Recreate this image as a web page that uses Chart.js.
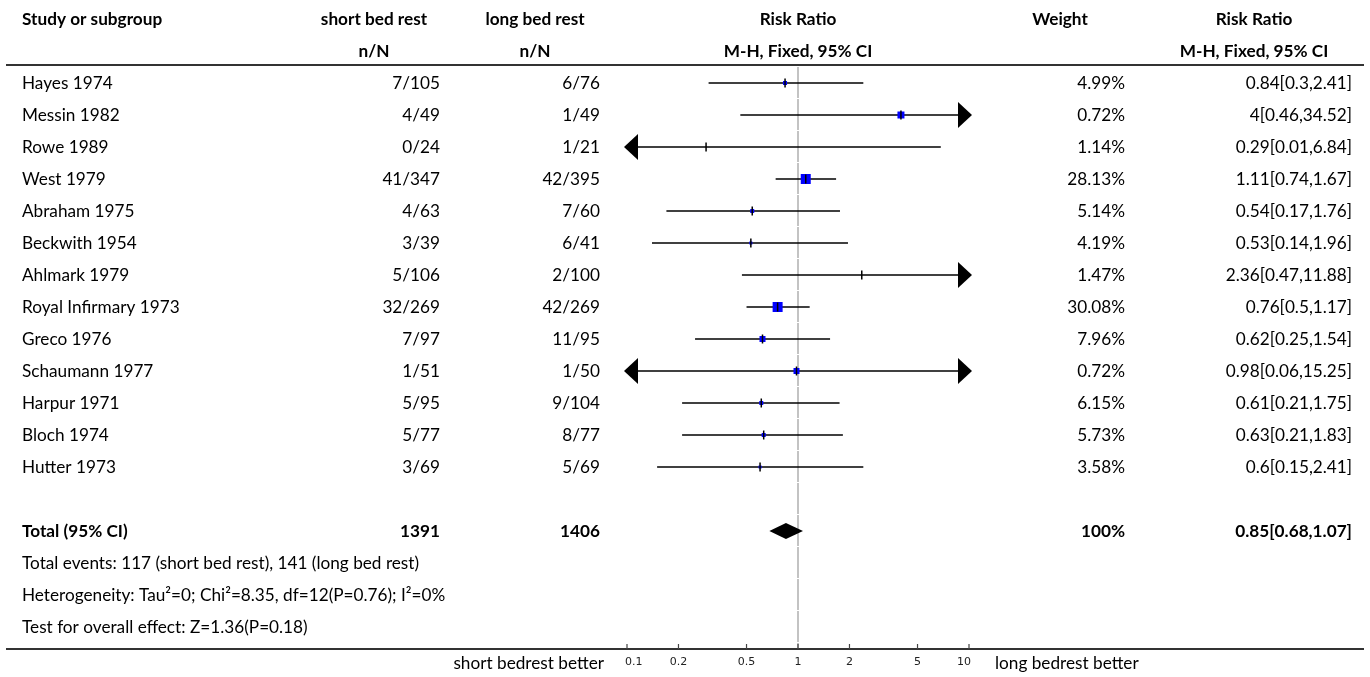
<!DOCTYPE html>
<html><head><meta charset="utf-8">
<script src="https://cdn.jsdelivr.net/npm/chart.js@4.4.0/dist/chart.umd.min.js"></script>
<style>html,body{margin:0;padding:0;background:#fff;overflow:hidden}</style>
</head><body>
<canvas id="c" width="1370" height="677"></canvas>
<script>
// ---------- data ----------
const studies = ['Hayes 1974','Messin 1982','Rowe 1989','West 1979','Abraham 1975','Beckwith 1954','Ahlmark 1979','Royal Infirmary 1973','Greco 1976','Schaumann 1977','Harpur 1971','Bloch 1974','Hutter 1973'];
const shortEvents = [7,4,0,41,4,3,5,32,7,1,5,5,3];
const shortTotals = [105,49,24,347,63,39,106,269,97,51,95,77,69];
const longEvents = [6,1,1,42,7,6,2,42,11,1,9,8,5];
const longTotals = [76,49,21,395,60,41,100,269,95,50,104,77,69];
const riskRatio = [0.84,4,0.29,1.11,0.54,0.53,2.36,0.76,0.62,0.98,0.61,0.63,0.6];
const ciLower = [0.3,0.46,0.01,0.74,0.17,0.14,0.47,0.5,0.25,0.06,0.21,0.21,0.15];
const ciUpper = [2.41,34.52,6.84,1.67,1.76,1.96,11.88,1.17,1.54,15.25,1.75,1.83,2.41];
const weights = [4.99,0.72,1.14,28.13,5.14,4.19,1.47,30.08,7.96,0.72,6.15,5.73,3.58];
const totalShort = 1391, totalLong = 1406, totalWeight = 100;
const totalRR = 0.85, totalLower = 0.68, totalUpper = 1.07;
const axisTicks = [0.1,0.2,0.5,1,2,5,10];
const summaryLines = ['Total events: 117 (short bed rest), 141 (long bed rest)','Heterogeneity: Tau\u00b2=0; Chi\u00b2=8.35, df=12(P=0.76); I\u00b2=0%','Test for overall effect: Z=1.36(P=0.18)'];
const favoursLeft = 'short bedrest better', favoursRight = 'long bedrest better';

// ---------- styles ----------
const markerSide = [4,7,0,10,4,3,0,10,6,6,4,4,3]; // px, as drawn in reference
const FONT = 'Lato';
const FS = 17.2;
const TOTAL_ROW = 14;

const rows = studies.map((s,i)=>i);
const ciDatasets = studies.map((s,i)=>({
  type:'line', data:[{x:ciLower[i],y:i},{x:ciUpper[i],y:i}],
  borderColor:'#000', borderWidth:1.5, pointRadius:0, order:3
}));

const forestPlugin = {
  id:'forest',
  afterDatasetsDraw(chart){
    const ctx = chart.ctx, xs = chart.scales.x, ys = chart.scales.y;
    const xmin = xs.getPixelForValue(axisTicks[0]), xmax = xs.getPixelForValue(axisTicks[axisTicks.length-1]);
    ctx.save();
    ctx.fillStyle = '#000';
    studies.forEach((s,i)=>{
      const y = ys.getPixelForValue(i);
      if (ciLower[i] < axisTicks[0]) {
        ctx.beginPath(); ctx.moveTo(xmin-3,y); ctx.lineTo(xmin+11,y-13); ctx.lineTo(xmin+11,y+13); ctx.closePath(); ctx.fill();
      }
      if (ciUpper[i] > axisTicks[axisTicks.length-1]) {
        ctx.beginPath(); ctx.moveTo(xmax+3,y); ctx.lineTo(xmax-11,y-13); ctx.lineTo(xmax-11,y+13); ctx.closePath(); ctx.fill();
      }
    });
    const ty = ys.getPixelForValue(TOTAL_ROW);
    ctx.beginPath();
    ctx.moveTo(xs.getPixelForValue(totalLower), ty);
    ctx.lineTo(xs.getPixelForValue(totalRR), ty-8);
    ctx.lineTo(xs.getPixelForValue(totalUpper), ty);
    ctx.lineTo(xs.getPixelForValue(totalRR), ty+8);
    ctx.closePath(); ctx.fill();
    ctx.restore();
  },
  afterDraw(chart){
    const ctx = chart.ctx, xs = chart.scales.x, ys = chart.scales.y;
    const W = chart.width;
    const yOf = v => ys.getPixelForValue(v);
    ctx.save();
    ctx.strokeStyle = '#333'; ctx.lineWidth = 2;
    ctx.beginPath(); ctx.moveTo(6, yOf(-0.56)); ctx.lineTo(W-6, yOf(-0.56)); ctx.stroke();
    const axY = chart.chartArea.bottom;
    ctx.beginPath(); ctx.moveTo(6, axY); ctx.lineTo(W-6, axY); ctx.stroke();
    // axis ticks and labels
    ctx.lineWidth = 1.2; ctx.strokeStyle = '#444';
    ctx.fillStyle = '#222'; ctx.font = '11px "DejaVu Sans"'; ctx.textBaseline='middle';
    axisTicks.forEach((t,k)=>{
      const x = xs.getPixelForValue(t);
      ctx.beginPath(); ctx.moveTo(x, axY); ctx.lineTo(x, axY-5); ctx.stroke();
      let lx = x; ctx.textAlign = 'center';
      if (k === 0) { ctx.textAlign = 'left'; lx = x - 2; }
      else if (k === axisTicks.length-1) { ctx.textAlign = 'right'; lx = x + 2; }
      ctx.fillText(String(t), lx, axY+13);
    });
    // text table
    const txt = (s,x,y,align,bold)=>{ ctx.font=(bold?'bold ':'')+FS+'px '+FONT; ctx.textAlign=align; ctx.fillText(s,x,y); };
    ctx.fillStyle = '#000'; ctx.textBaseline='middle';
    const cx1 = xs.getPixelForValue(1);
    txt('Study or subgroup',22,yOf(-2),'left',true);
    txt('short bed rest',374,yOf(-2),'center',true); txt('n/N',374,yOf(-1),'center',true);
    txt('long bed rest',535,yOf(-2),'center',true); txt('n/N',535,yOf(-1),'center',true);
    txt('Risk Ratio',cx1,yOf(-2),'center',true); txt('M-H, Fixed, 95% CI',cx1,yOf(-1),'center',true);
    txt('Weight',1060,yOf(-2),'center',true);
    txt('Risk Ratio',1254,yOf(-2),'center',true); txt('M-H, Fixed, 95% CI',1254,yOf(-1),'center',true);
    studies.forEach((s,i)=>{
      const y = yOf(i);
      txt(s,22,y,'left',false);
      txt(shortEvents[i]+'/'+shortTotals[i],440,y,'right',false);
      txt(longEvents[i]+'/'+longTotals[i],600,y,'right',false);
      txt(weights[i].toFixed(2)+'%',1125,y,'right',false);
      txt(riskRatio[i]+'['+ciLower[i]+','+ciUpper[i]+']',1352,y,'right',false);
    });
    const ty = yOf(TOTAL_ROW);
    txt('Total (95% CI)',22,ty,'left',true);
    txt(String(totalShort),440,ty,'right',true);
    txt(String(totalLong),600,ty,'right',true);
    txt(totalWeight+'%',1125,ty,'right',true);
    txt(totalRR+'['+totalLower+','+totalUpper+']',1352,ty,'right',true);
    summaryLines.forEach((s,k)=>txt(s,22,yOf(TOTAL_ROW+1+k),'left',false));
    txt(favoursLeft,604,axY+14,'right',false);
    txt(favoursRight,995,axY+14,'left',false);
    ctx.restore();
  }
};

new Chart(document.getElementById('c'), {
  type:'scatter',
  data:{ datasets:[
    { type:'line', data:[{x:1,y:-0.5},{x:1,y:17.6875}], borderColor:'#b0b0b0', borderWidth:1.5, borderDash:[31,1], pointRadius:0, order:5 },
    ...ciDatasets,
    { type:'scatter', data:rows.map(i=>({x:riskRatio[i],y:i})), pointStyle:'rect',
      pointRadius:markerSide.map(s=>s/Math.SQRT2), backgroundColor:'#0000ff', borderWidth:0, order:2 },
    { type:'scatter', data:rows.map(i=>({x:riskRatio[i],y:i})), pointStyle:'line', rotation:90,
      pointRadius:4.5, borderColor:'#000', borderWidth:1.5, order:1 }
  ]},
  options:{
    responsive:false, animation:false, events:[], devicePixelRatio:1,
    layout:{ padding:{ left:627, right:401, top:67, bottom:28 } },
    plugins:{ legend:{display:false}, tooltip:{enabled:false} },
    scales:{
      x:{ type:'logarithmic', min:axisTicks[0], max:axisTicks[axisTicks.length-1], display:false },
      y:{ type:'linear', min:-0.5, max:17.6875, reverse:true, display:false }
    }
  },
  plugins:[forestPlugin]
});
</script>
</body></html>
